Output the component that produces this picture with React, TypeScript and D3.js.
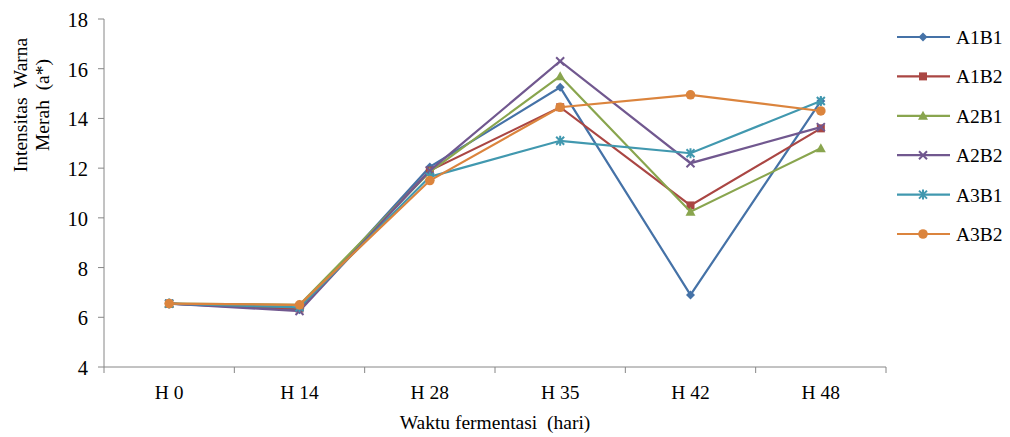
import React from "react";
import * as d3 from "d3";

const categories = ["H 0", "H 14", "H 28", "H 35", "H 42", "H 48"];
const seriesNames = ["A1B1", "A1B2", "A2B1", "A2B2", "A3B1", "A3B2"];
const A1B1 = [6.55, 6.3, 12.05, 15.25, 6.9, 14.7];
const A1B2 = [6.55, 6.35, 11.9, 14.45, 10.5, 13.6];
const A2B1 = [6.55, 6.5, 11.85, 15.7, 10.25, 12.8];
const A2B2 = [6.55, 6.25, 11.9, 16.3, 12.2, 13.65];
const A3B1 = [6.55, 6.4, 11.65, 13.1, 12.6, 14.7];
const A3B2 = [6.55, 6.5, 11.5, 14.45, 14.95, 14.3];
const yTicks = [4, 6, 8, 10, 12, 14, 16, 18];
const colors = ["#4572A7", "#AA4643", "#89A54E", "#71588F", "#4198AF", "#DB843D"];
const markers = ["diamond", "square", "triangle", "x", "star", "circle"];

const seriesValues = [A1B1, A1B2, A2B1, A2B2, A3B1, A3B2];

const W = 1010, H = 437;
const left = 104, right = 886, top = 19, bottom = 367;
const font = "'Liberation Serif', 'Times New Roman', serif";
const txt: React.CSSProperties = { fontFamily: font, fontSize: "19.5px", whiteSpace: "pre" };
const tickTxt: React.CSSProperties = { fontFamily: font, fontSize: "20.5px", whiteSpace: "pre" };

function Marker({ type, x, y, color }: { type: string; x: number; y: number; color: string }) {
  if (type === "diamond") {
    const s = 4.5;
    return <path d={`M${x},${y - s}L${x + s},${y}L${x},${y + s}L${x - s},${y}Z`} fill={color} />;
  }
  if (type === "square") {
    const s = 4;
    return <rect x={x - s} y={y - s} width={2 * s} height={2 * s} fill={color} />;
  }
  if (type === "triangle") {
    const s = 5;
    return <path d={`M${x},${y - s}L${x + s},${y + s * 0.8}L${x - s},${y + s * 0.8}Z`} fill={color} />;
  }
  if (type === "x") {
    const s = 4;
    return (
      <path d={`M${x - s},${y - s}L${x + s},${y + s}M${x - s},${y + s}L${x + s},${y - s}`} stroke={color} strokeWidth={2} />
    );
  }
  if (type === "star") {
    const s = 4;
    return (
      <path
        d={`M${x - s},${y - s}L${x + s},${y + s}M${x - s},${y + s}L${x + s},${y - s}M${x},${y - s - 1}L${x},${y + s + 1}`}
        stroke={color}
        strokeWidth={2}
      />
    );
  }
  return <circle cx={x} cy={y} r={4.8} fill={color} />;
}

export default function App() {
  const x = d3.scaleBand<string>().domain(categories).range([left, right]);
  const y = d3.scaleLinear().domain([4, 18]).range([bottom, top]);
  const cx = (c: string) => (x(c) as number) + x.bandwidth() / 2;
  const line = d3
    .line<number>()
    .x((_, i) => cx(categories[i]))
    .y((v) => y(v));
  const axisColor = "#868686";
  const tickEdges = categories.map((c) => x(c) as number).concat([right]);

  return (
    <svg width={W} height={H} style={{ position: "absolute", left: 0, top: 0, background: "#fff" }}>
      {/* y axis */}
      <line x1={left} x2={left} y1={top} y2={bottom} stroke={axisColor} strokeWidth={1} />
      {yTicks.map((t) => (
        <g key={t}>
          <line x1={left - 6} x2={left} y1={y(t)} y2={y(t)} stroke={axisColor} />
          <text x={88} y={y(t) + 8} textAnchor="end" style={tickTxt} fill="#000">
            {t}
          </text>
        </g>
      ))}
      {/* x axis */}
      <line x1={left} x2={right} y1={bottom} y2={bottom} stroke={axisColor} strokeWidth={1} />
      {tickEdges.map((e, i) => (
        <line key={i} x1={e} x2={e} y1={bottom} y2={bottom + 6} stroke={axisColor} />
      ))}
      {categories.map((c) => (
        <text key={c} x={cx(c)} y={399} textAnchor="middle" style={txt} fill="#000">
          {c}
        </text>
      ))}
      <text x={495} y={429} textAnchor="middle" style={txt} fill="#000">
        {"Waktu fermentasi  (hari)"}
      </text>
      <g transform="translate(27,105) rotate(-90)">
        <text x={0} y={0} textAnchor="middle" style={txt} fill="#000">
          {"Intensitas  Warna"}
        </text>
        <text x={0} y={22} textAnchor="middle" style={txt} fill="#000">
          {"Merah  (a*)"}
        </text>
      </g>
      {/* series */}
      {seriesValues.map((vals, si) => (
        <g key={seriesNames[si]}>
          <path d={line(vals) || ""} fill="none" stroke={colors[si]} strokeWidth={2.2} />
          {vals.map((v, i) => (
            <Marker key={i} type={markers[si]} x={cx(categories[i])} y={y(v)} color={colors[si]} />
          ))}
        </g>
      ))}
      {/* legend */}
      {seriesNames.map((n, si) => {
        const ly = 37 + si * 39.4;
        return (
          <g key={n}>
            <line x1={897} x2={950} y1={ly} y2={ly} stroke={colors[si]} strokeWidth={2.2} />
            <Marker type={markers[si]} x={923} y={ly} color={colors[si]} />
            <text x={956} y={ly + 7} style={txt} fill="#000">
              {n}
            </text>
          </g>
        );
      })}
    </svg>
  );
}
